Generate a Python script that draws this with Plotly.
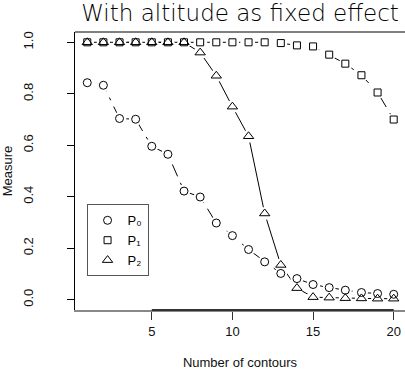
import plotly.graph_objects as go

# ---- data ----
contours = list(range(1, 21))
p0 = [0.843, 0.833, 0.704, 0.701, 0.596, 0.565, 0.422, 0.399, 0.298, 0.249,
      0.195, 0.147, 0.102, 0.082, 0.059, 0.047, 0.037, 0.028, 0.024, 0.021]
p1 = [1.0, 1.0, 1.0, 1.0, 1.0, 1.0, 1.0, 1.0, 1.0, 1.0,
      1.0, 1.0, 0.997, 0.988, 0.984, 0.952, 0.917, 0.872, 0.805, 0.700]
p2 = [1.0, 1.0, 1.0, 1.0, 1.0, 1.0, 1.0, 0.96, 0.87, 0.75,
      0.635, 0.335, 0.135, 0.045, 0.01, 0.008, 0.006, 0.005, 0.004, 0.004]
series_names = ["P₀", "P₁", "P₂"]
x_ticks = [5, 10, 15, 20]
y_ticks = [0.0, 0.2, 0.4, 0.6, 0.8, 1.0]
y_tick_text = ["0.0", "0.2", "0.4", "0.6", "0.8", "1.0"]

series = [p0, p1, p2]
symbols = ["circle-open", "square-open", "triangle-up-open"]
sizes = [8, 7, 9]
dashes = ["3px,7px,13px,7px", "3px,7px,13px,7px", "solid"]

FONT = "Liberation Sans, Arial, sans-serif"
fig = go.Figure()

# connecting lines
for ys, d in zip(series, dashes):
    fig.add_trace(go.Scatter(x=contours, y=ys, mode="lines",
                             line=dict(color="black", width=1, dash=d),
                             showlegend=False, hoverinfo="skip"))
# white masks to create gaps around the points (R type="b")
for ys in series:
    fig.add_trace(go.Scatter(x=contours, y=ys, mode="markers",
                             marker=dict(color="white", size=13, line=dict(width=0)),
                             showlegend=False, hoverinfo="skip"))
# markers
for ys, sym, sz, nm in zip(series, symbols, sizes, series_names):
    fig.add_trace(go.Scatter(x=contours, y=ys, mode="markers", name=nm,
                             marker=dict(symbol=sym, size=sz, color="black",
                                         line=dict(width=1, color="black"))))

# darker part of the x axis line between the first and last tick
fig.add_shape(type="line", xref="x", yref="paper", x0=x_ticks[0], x1=x_ticks[-1],
              y0=0, y1=0, line=dict(color="#333333", width=2))
# top frame line
fig.add_shape(type="line", xref="paper", yref="paper", x0=0, x1=1, y0=1, y1=1,
              line=dict(color="black", width=1))

fig.update_layout(
    width=405, height=378,
    margin=dict(l=75, r=0, t=32, b=68),
    paper_bgcolor="white", plot_bgcolor="white",
    font=dict(family=FONT, size=13, color="#111111"),
    title=dict(text="With altitude as fixed effect",
               font=dict(family="DejaVu Sans", size=23, color="black", weight=300),
               x=0.5, xref="paper", xanchor="center",
               y=1 - 5 / 378, yref="container", yanchor="top"),
    showlegend=True,
    legend=dict(x=0.035, y=0.38, xanchor="left", yanchor="top",
                bgcolor="white", bordercolor="#555555", borderwidth=1,
                font=dict(family=FONT, size=13, color="black"),
                itemwidth=30, tracegroupgap=0),
    xaxis=dict(range=[0.24, 20.7], tickvals=x_ticks, ticks="outside", ticklen=8,
               tickcolor="#333333", showgrid=False, zeroline=False,
               showline=True, linecolor="#888888", linewidth=2,
               ticklabelstandoff=0, automargin=False,
               title=dict(text="Number of contours", font=dict(size=13), standoff=20)),
    yaxis=dict(range=[-0.04, 1.04], tickvals=y_ticks, ticktext=y_tick_text,
               tickangle=-90, ticks="outside", ticklen=7, tickcolor="black",
               showgrid=False, zeroline=False, showline=True, linecolor="black",
               linewidth=1, ticklabelstandoff=29, automargin=False,
               title=dict(text="Measure", font=dict(size=13), standoff=16)),
)

fig.write_html("out.html")
